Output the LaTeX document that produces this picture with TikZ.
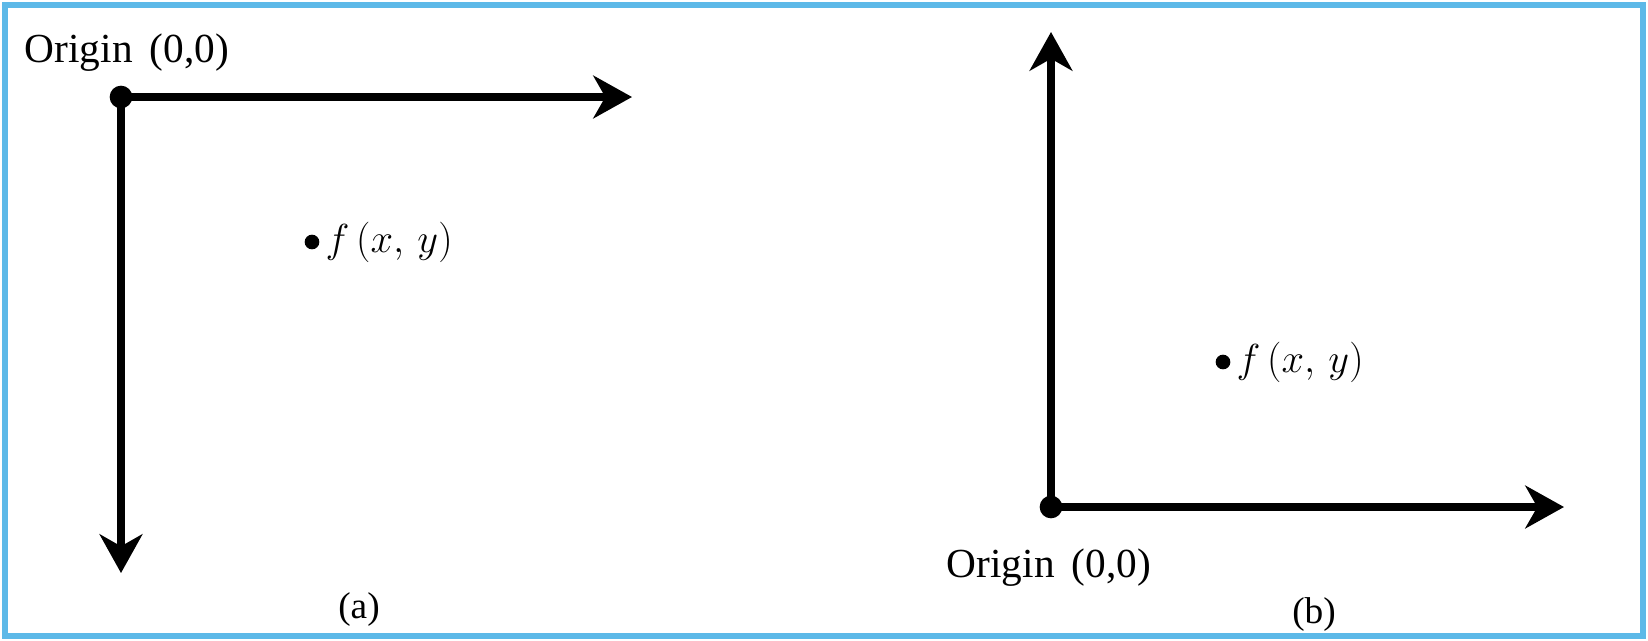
\documentclass[tikz,border=0pt]{standalone}
\usepackage{graphicx}
\usepackage{fontspec}
\setmainfont{Liberation Serif}
\usetikzlibrary{arrows.meta}
\definecolor{frameblue}{HTML}{5DB9E8}
\newcommand{\fxy}{\scalebox{1.22}{$f\,(x,\,y)$}}
\tikzset{
  axis/.style={line width=5.6pt, -{Stealth[length=29pt,width=32pt,inset=9pt]}},
  origindot/.style={circle, fill=black, inner sep=0pt, minimum size=17pt},
  ptdot/.style={circle, fill=black, inner sep=0pt, minimum size=11pt},
  lbl/.style={font=\fontsize{31}{36}\selectfont, inner sep=0pt},
  caplbl/.style={font=\fontsize{28}{32}\selectfont, inner sep=0pt},
  mathlbl/.style={font=\fontsize{24.88}{30}\selectfont, inner sep=0pt, anchor=west}
}
\begin{document}
\begin{tikzpicture}[x=0.75pt,y=-0.75pt]
\useasboundingbox (0,0) rectangle (1648,640);
\draw[frameblue, line width=4.5pt] (5,5) rectangle (1643,636);
% (a)
\node[origindot] (oa) at (121,97) {};
\coordinate (ax) at (632,97);
\coordinate (ay) at (121,573);
\draw[axis] (oa.center) -- (ax);
\draw[axis] (oa.center) -- (ay);
\node[lbl] (ola) at (127,53) {Origin\, (0,0)};
\node[ptdot] (pa) at (312,242) {};
\node[mathlbl] (fa) at ([xshift=10pt]pa.center) {\fxy};
\node[caplbl] (capa) at (359,610) {(a)};
% (b)
\node[origindot] (ob) at (1051,507) {};
\coordinate (bx) at (1564,507);
\coordinate (by) at (1051,32);
\draw[axis] (ob.center) -- (bx);
\draw[axis] (ob.center) -- (by);
\node[lbl] (olb) at (1049,568) {Origin\, (0,0)};
\node[ptdot] (pb) at (1223,362) {};
\node[mathlbl] (fb) at ([xshift=10pt]pb.center) {\fxy};
\node[caplbl] (capb) at (1314,615) {(b)};
\end{tikzpicture}
\end{document}
